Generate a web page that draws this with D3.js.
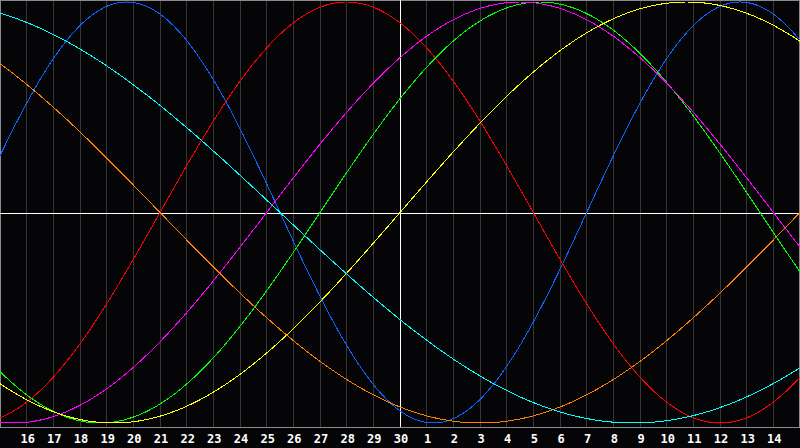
<!DOCTYPE html>
<html>
<head>
<meta charset="utf-8">
<script src="https://cdn.jsdelivr.net/npm/d3@7"></script>
<style>
  html, body { margin: 0; padding: 0; background: #050507; }
  svg { display: block; }
</style>
</head>
<body>
<svg id="chart" width="800" height="448"></svg>
<script>
// ---- data ----
// Biorhythm cycles (period in days) and colours
const cycleNames = ["Physical", "Emotional", "Intellectual", "Intuitive", "Aesthetic", "Awareness", "Spiritual"];
const cyclePeriods = [23, 28, 33, 38, 43, 48, 53];
const cycleColors = ["#0a64ff", "#ff0000", "#00ff00", "#ff00ff", "#ffff00", "#ff8000", "#00ffff"];
// days lived at the left edge of the chart (the 15th)
const daysLivedAtStart = 31074;
// day labels under the grid lines (day 1 .. 29 of the 30-day window)
const dayLabels = [16, 17, 18, 19, 20, 21, 22, 23, 24, 25, 26, 27, 28, 29, 30,
                   1, 2, 3, 4, 5, 6, 7, 8, 9, 10, 11, 12, 13, 14];
const todayIndex = 15;
const windowDays = 30;

// ---- drawing ----
const W = 800, plotH = 427;
const svg = d3.select("#chart");
const x = d3.scaleLinear().domain([0, windowDays]).range([0, 800]);
const y = d3.scaleLinear().domain([-1, 1]).range([423, 2]);

svg.append("rect").attr("x", 0).attr("y", 0).attr("width", 800).attr("height", 448).attr("fill", "#050507");

// vertical day grid
const g = svg.append("g").attr("shape-rendering", "crispEdges");
dayLabels.forEach((d, i) => {
  const k = i + 1;
  if (k === todayIndex) return;
  g.append("line")
    .attr("x1", Math.floor(x(k)) + 0.5).attr("x2", Math.floor(x(k)) + 0.5)
    .attr("y1", 0).attr("y2", plotH)
    .attr("stroke", "#363636").attr("stroke-width", 1);
});

// frame
g.append("rect").attr("x", 0.5).attr("y", 0.5).attr("width", 799).attr("height", plotH)
  .attr("fill", "none").attr("stroke", "#8a8a8a").attr("stroke-width", 1);

// curves
const samples = d3.range(0, windowDays + 0.0001, 0.05);
const line = d3.line().x(d => x(d.t)).y(d => y(d.v));
const curvesG = svg.append("g").attr("shape-rendering", "crispEdges");
cyclePeriods.forEach((p, i) => {
  const pts = samples.map(t => ({ t, v: Math.sin(2 * Math.PI * (daysLivedAtStart + t) / p) }));
  curvesG.append("path")
    .datum(pts)
    .attr("d", line)
    .attr("fill", "none")
    .attr("stroke", cycleColors[i])
    .attr("stroke-width", 1);
});

// axes (white): zero line and today line
g.append("line").attr("x1", 0).attr("x2", 800)
  .attr("y1", Math.round(y(0)) + 0.5).attr("y2", Math.round(y(0)) + 0.5)
  .attr("stroke", "#ffffff").attr("stroke-width", 1);
g.append("line").attr("x1", x(todayIndex) + 0.5).attr("x2", x(todayIndex) + 0.5)
  .attr("y1", 0).attr("y2", plotH)
  .attr("stroke", "#ffffff").attr("stroke-width", 1);

// labels
svg.append("g").selectAll("text").data(dayLabels).join("text")
  .attr("x", (d, i) => x(i + 1) + 1)
  .attr("y", 443)
  .attr("text-anchor", "middle")
  .attr("fill", "#ffffff")
  .attr("font-family", "DejaVu Sans Mono, monospace")
  .attr("font-weight", "bold")
  .attr("font-size", "12px")
  .text(d => d);
</script>
</body>
</html>
